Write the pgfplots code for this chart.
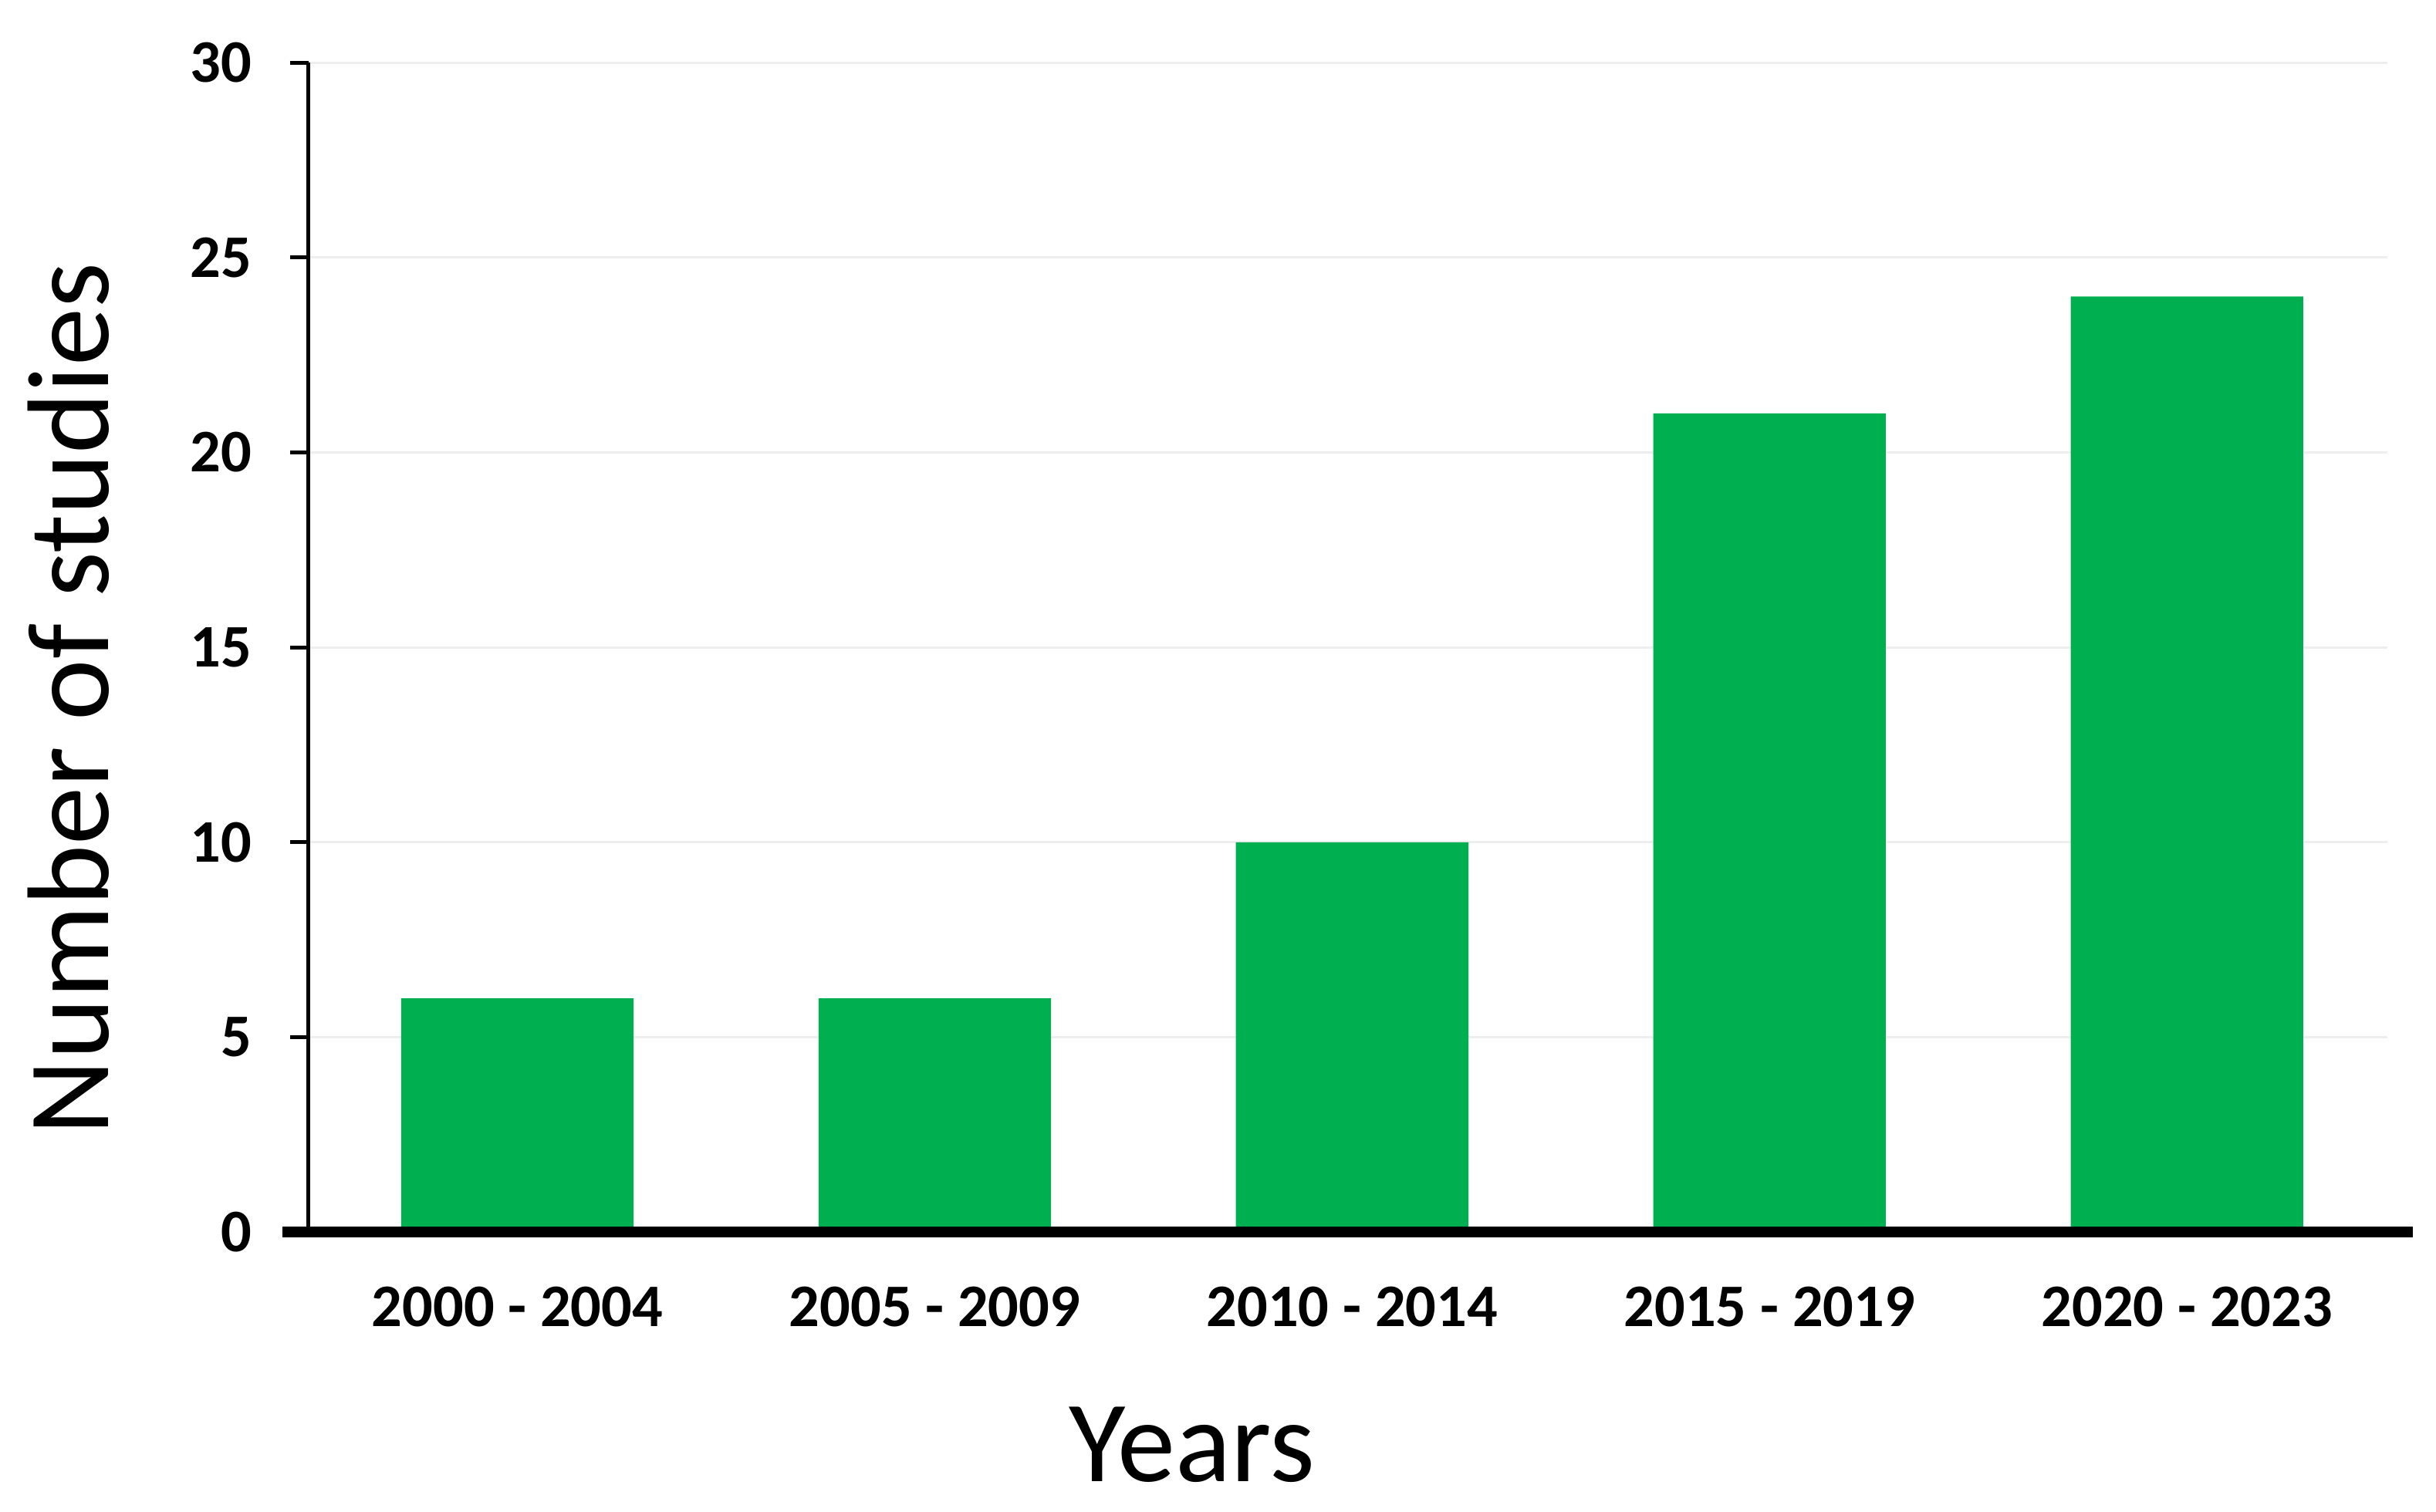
\documentclass[border=0pt]{standalone}
\usepackage{fontspec}
\setmainfont{Carlito}
\usepackage{pgfplots}
\pgfplotsset{compat=1.18}
\definecolor{xlgreen}{RGB}{0,176,80}
\definecolor{gridgray}{RGB}{238,238,238}

\begin{document}
\begin{tikzpicture}
  \begin{axis}[
    name=ax,
    scale only axis,
    width=388.4pt, height=218.6pt,
    xmin=-0.5, xmax=4.48,
    ymin=0, ymax=30,
    xtick={0,1,2,3,4},
    xticklabels={2000 - 2004, 2005 - 2009, 2010 - 2014, 2015 - 2019, 2020 - 2023},
    ytick={0,5,...,30},
    axis x line*=bottom,
    axis y line*=left,
    x axis line style={draw=none},
    y axis line style={line width=0.72pt, -},
    major x tick style={draw=none},
    major y tick style={line width=0.72pt, black},
    tick align=outside,
    major tick length=3.5pt,
    ymajorgrids,
    grid style={line width=0.45pt, gridgray},
    /pgf/number format/assume math mode=true,
    ticklabel style={font=\bfseries\fontsize{11.3}{13}\selectfont},
    yticklabel style={anchor=east, inner sep=0pt, xshift=-7pt},
    xticklabel style={anchor=north, inner sep=0pt, yshift=-6.5pt},
    clip=false,
  ]
    \addplot[ybar, bar width=0.557, fill=xlgreen, draw=none]
      coordinates {(0,6) (1,6) (2,10) (3,21) (4,24)};
    \draw[line width=2pt] (rel axis cs:-0.0126,0) -- (rel axis cs:1.0122,0);
    \node[rotate=90, inner sep=0pt, font=\fontsize{21.7}{26}\selectfont]
      at ([xshift=-44.9pt]rel axis cs:0,0.456) {Number of studies};
    \node[inner sep=0pt, anchor=base, font=\fontsize{21.7}{26}\selectfont]
      at ([yshift=-46.6pt]rel axis cs:0.425,0) {Years};
  \end{axis}
  \pgfresetboundingbox
  \path[use as bounding box] ([shift={(-57.67pt,-52.2pt)}]ax.south west)
    rectangle ([shift={(9.1pt,11.7pt)}]ax.north east);
\end{tikzpicture}
\end{document}
